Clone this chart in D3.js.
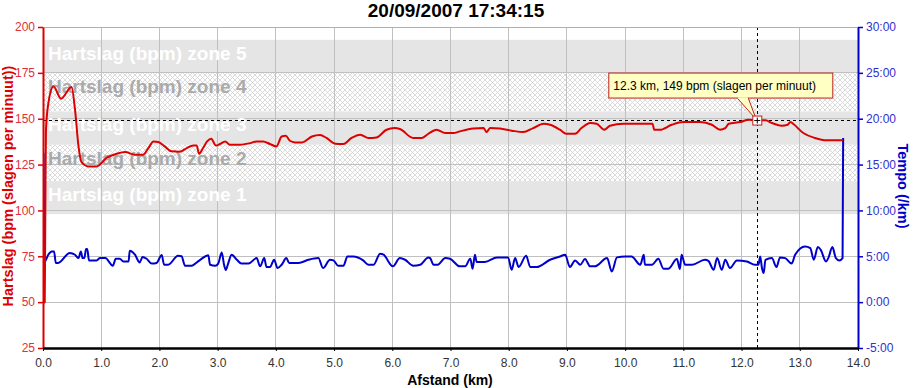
<!DOCTYPE html>
<html>
<head>
<meta charset="utf-8">
<script src="https://cdn.jsdelivr.net/npm/d3@7"></script>
<style>
html,body{margin:0;padding:0;background:#fff;}
svg{display:block;font-family:Arial,"Liberation Sans",sans-serif;}
</style>
</head>
<body>
<svg id="chart" width="914" height="388"></svg>
<script>
// ---------- DATA ----------
const chartTitle = "20/09/2007 17:34:15";
const xTicks = [0,1,2,3,4,5,6,7,8,9,10,11,12,13,14];
const hrTicks = [25,50,75,100,125,150,175,200];
const paceTicks = [-5,0,5,10,15,20,25,30];

const zoneNames = ["Hartslag (bpm) zone 1","Hartslag (bpm) zone 2","Hartslag (bpm) zone 3","Hartslag (bpm) zone 4","Hartslag (bpm) zone 5"];
const zoneLower = [98, 116, 135.8, 154, 175];
const zoneUpper = [116, 135.8, 154, 175, 193];

const hrKm = [0.0,0.01,0.03,0.04,0.05,0.09,0.18,0.31,0.49,0.55,0.61,0.66,0.78,0.92,1.09,1.27,1.41,1.58,1.72,1.81,1.90,1.98,2.09,2.21,2.35,2.47,2.58,2.64,2.68,2.75,2.82,2.89,2.97,3.04,3.13,3.21,3.38,3.56,3.67,3.78,3.90,4.01,4.10,4.17,4.24,4.33,4.45,4.62,4.76,4.87,5.02,5.16,5.30,5.45,5.59,5.73,5.90,6.04,6.13,6.36,6.51,6.62,6.76,6.91,7.05,7.16,7.39,7.57,7.62,7.68,7.85,8.05,8.25,8.42,8.60,8.71,8.88,8.99,9.14,9.25,9.40,9.51,9.64,9.74,9.97,10.20,10.47,10.50,10.60,10.80,11.00,11.29,11.49,11.63,11.72,11.78,11.98,12.12,12.26,12.41,12.52,12.69,12.79,12.84,12.89,13.06,13.26,13.46,13.74];
const hrBpm = [48,50,50,100,143,158,167.5,160.9,167.3,154.9,134.9,126.4,124,124,128.6,130.9,131.8,130.4,130.4,134,137.6,137.3,134.9,132.2,132,134,135.4,135.4,130.9,134,137.6,139.1,135.4,136.2,137.6,135.8,135.8,136.7,137.6,137.6,136.2,134.9,140.3,140.7,138,137.1,137.1,140.3,141.1,139.5,136.4,136.2,139.5,141.3,139.5,139.8,144,144.9,144.4,139.5,139.5,141.8,144,142.2,142.2,143.1,144.6,144.9,142.7,144.9,144.6,143.5,142.7,144.9,147.3,146.7,144,141.8,141.8,144.9,147.7,147.3,144,146.2,147.3,147.3,147.3,144,144,146.7,148.2,148.2,146.7,144,144.9,147.3,148.2,149.4,149.1,149.1,147.7,146.2,146.7,148.2,147.1,142.2,139.5,138.2,138.2];

const paceKm = [0.01,0.03,0.09,0.15,0.19,0.22,0.26,0.46,0.55,0.61,
 0.65,0.68,0.71,0.74,0.76,0.79,0.92,0.98,1.07,1.20,
 1.25,1.32,1.38,1.47,1.49,1.58,1.66,1.71,1.78,1.87,
 1.95,2.04,2.08,2.15,2.32,2.38,2.44,2.55,2.70,2.84,
 2.87,2.96,3.01,3.07,3.11,3.14,3.18,3.24,3.33,3.41,
 3.53,3.67,3.73,3.80,3.84,3.90,3.97,4.03,4.10,4.18,
 4.23,4.39,4.56,4.73,4.81,4.93,4.99,5.07,5.16,5.23,
 5.33,5.50,5.59,5.68,5.79,5.85,6.01,6.13,6.22,6.36,
 6.48,6.62,6.65,6.71,6.78,6.91,6.99,7.16,7.25,7.34,
 7.38,7.42,7.45,7.59,7.80,7.99,8.05,8.11,8.17,8.30,
 8.37,8.48,8.71,8.88,8.97,9.05,9.14,9.23,9.31,9.40,
 9.48,9.69,9.77,9.86,10.00,10.11,10.26,10.32,10.34,10.46,
 10.57,10.66,10.74,10.89,10.94,10.97,11.03,11.15,11.37,11.43,
 11.52,11.58,11.66,11.72,11.80,11.92,12.09,12.23,12.29,12.32,
 12.35,12.38,12.41,12.52,12.60,12.66,12.75,12.86,12.92,13.09,
 13.18,13.24,13.31,13.36,13.45,13.49,13.56,13.62,13.68,13.735,
 13.745];
const paceMin = [16.3,4.44,5.17,5.53,5.53,4.27,4.27,5.36,5.17,4.8,
 5.53,4.8,4.8,5.8,5.8,4.55,4.55,4.8,4.8,3.97,
 4.73,4.73,4.44,4.44,5.6,5.17,4.33,4.92,4.73,4.2,
 4.27,5.14,4.08,4.08,5.06,5.0,3.97,3.97,4.62,5.1,
 4.08,3.97,4.2,5.42,4.08,3.5,4.2,5.17,4.62,4.2,
 4.2,4.8,3.9,4.8,3.83,3.83,4.62,3.72,4.08,4.8,
 4.27,4.27,4.62,4.8,3.72,4.62,4.55,3.97,3.97,4.98,
 4.98,4.55,4.08,4.08,5.28,5.17,3.9,4.8,4.62,3.97,
 4.08,4.88,4.8,4.08,4.08,4.8,4.73,3.9,3.9,4.73,
 3.64,5.17,4.37,4.37,4.88,4.88,3.53,4.8,3.83,5.06,
 3.83,3.83,4.62,4.98,5.17,3.83,4.55,4.08,4.7,3.9,
 3.9,4.8,3.35,4.88,4.98,4.98,4.08,5.17,4.08,4.08,
 4.73,3.64,3.64,4.7,3.61,5.17,4.08,4.08,4.62,4.5,
 3.53,4.8,3.53,4.62,3.72,4.55,4.44,4.08,4.08,4.98,
 3.72,3.17,4.62,4.8,3.83,4.88,4.8,4.2,5.17,6.08,
 5.9,4.62,6.0,5.7,4.44,4.8,6.0,4.8,4.55,4.8,
 17.9];

const cursorKm = 12.27;
const cursorBpm = 149;
const tooltipText = "12.3 km, 149 bpm (slagen per minuut)";

// ---------- LAYOUT ----------
const svg = d3.select("#chart");
const L = 43, R = 858, T = 27, B = 348;
const x = d3.scaleLinear().domain([0,14]).range([L,R]);
const yL = d3.scaleLinear().domain([25,200]).range([B,T]);
const yR = d3.scaleLinear().domain([-5,30]).range([B,T]);
const HR_COL = "#dd0000", PACE_COL = "#0000cc";

const defs = svg.append("defs");
const pat = defs.append("pattern").attr("id","hatch").attr("patternUnits","userSpaceOnUse")
  .attr("width",5).attr("height",5);
pat.append("rect").attr("width",5).attr("height",5).attr("fill","#ffffff");
pat.append("path").attr("d","M0,0L5,5M5,0L0,5M-1,4L1,6M4,-1L6,1").attr("stroke","#d2d2d2").attr("stroke-width",0.8);
defs.append("clipPath").attr("id","clip").append("rect")
  .attr("x",L).attr("y",T).attr("width",R-L).attr("height",B-T);

// zones
const zones = zoneNames.map((n,i)=>({name:n, lo:zoneLower[i], hi:zoneUpper[i], i}));
svg.append("g").selectAll("rect").data(zones).join("rect")
  .attr("x",L+1).attr("width",R-L-1)
  .attr("y",d=>yL(d.hi)).attr("height",d=>yL(d.lo)-yL(d.hi))
  .attr("fill",d=>d.i%2===0 ? "#e5e5e5" : "url(#hatch)");

// grid
const grid = svg.append("g");
grid.selectAll("line.v").data(xTicks.slice(1,-1)).join("line")
  .attr("x1",d=>x(d)).attr("x2",d=>x(d)).attr("y1",T).attr("y2",B)
  .attr("stroke","#c0c0c0").attr("stroke-width",1).attr("shape-rendering","crispEdges");
grid.selectAll("line.h").data(hrTicks.slice(1)).join("line")
  .attr("x1",L).attr("x2",R).attr("y1",d=>yL(d)).attr("y2",d=>yL(d))
  .attr("stroke","#c0c0c0").attr("stroke-width",1).attr("shape-rendering","crispEdges");

// zone labels
svg.append("g").selectAll("text").data(zones).join("text")
  .attr("x",L+5).attr("y",d=>yL(d.hi)+20)
  .attr("font-size",19).attr("font-weight","bold")
  .attr("fill",d=>d.i%2===0 ? "#ffffff" : "#aaaaaa")
  .text(d=>d.name);

// cursor lines
svg.append("line").attr("x1",L).attr("x2",R).attr("y1",yL(cursorBpm)).attr("y2",yL(cursorBpm))
  .attr("stroke","#000").attr("stroke-dasharray","3,3").attr("shape-rendering","crispEdges");
svg.append("line").attr("x1",x(cursorKm)).attr("x2",x(cursorKm)).attr("y1",T).attr("y2",B)
  .attr("stroke","#000").attr("stroke-dasharray","3,3").attr("shape-rendering","crispEdges");

// series
const plot = svg.append("g").attr("clip-path","url(#clip)");
const hrData = hrKm.map((k,i)=>[k,hrBpm[i]]);
const paceData = paceKm.map((k,i)=>[k,paceMin[i]]);
plot.append("path").datum(paceData)
  .attr("d",d3.line().curve(d3.curveMonotoneX).x(d=>x(d[0])).y(d=>yR(d[1])))
  .attr("fill","none").attr("stroke",PACE_COL).attr("stroke-width",2).attr("stroke-linejoin","round");
plot.append("path").datum(hrData)
  .attr("d",d3.line().curve(d3.curveMonotoneX).x(d=>x(d[0])).y(d=>yL(d[1])))
  .attr("fill","none").attr("stroke",HR_COL).attr("stroke-width",2).attr("stroke-linejoin","round");

// top border
svg.append("line").attr("x1",L).attr("x2",R).attr("y1",T+0.5).attr("y2",T+0.5).attr("stroke","#b0b0b0");

// axes
const fmtPace = v => (v<0?"-":"") + Math.abs(v) + ":00";
const gL = svg.append("g").attr("transform",`translate(${L},0)`)
  .call(d3.axisLeft(yL).tickValues(hrTicks).tickSize(5).tickSizeOuter(0).tickPadding(3).tickFormat(d3.format("d")));
gL.select(".domain").attr("stroke",HR_COL).attr("stroke-width",2);
gL.selectAll(".tick line").attr("stroke",HR_COL).attr("stroke-width",1.5);
gL.selectAll("text").attr("fill","#e0303a").attr("font-size",12).attr("font-family","Arial, Liberation Sans, sans-serif");

const gR = svg.append("g").attr("transform",`translate(${R},0)`)
  .call(d3.axisRight(yR).tickValues(paceTicks).tickSize(5).tickSizeOuter(0).tickPadding(3).tickFormat(fmtPace));
gR.select(".domain").attr("stroke",PACE_COL).attr("stroke-width",2);
gR.selectAll(".tick line").attr("stroke",PACE_COL).attr("stroke-width",1.5);
gR.selectAll("text").attr("fill","#3030d0").attr("font-size",12).attr("font-family","Arial, Liberation Sans, sans-serif");

const gB = svg.append("g").attr("transform",`translate(0,${B})`)
  .call(d3.axisBottom(x).tickValues(xTicks).tickSize(3).tickSizeOuter(0).tickPadding(7).tickFormat(d3.format(".1f")));
gB.select(".domain").attr("stroke","#000").attr("stroke-width",2.5);
gB.selectAll(".tick line").attr("stroke","#000");
gB.selectAll("text").attr("fill","#333").attr("font-size",12).attr("font-family","Arial, Liberation Sans, sans-serif");

// titles
svg.append("text").attr("x",456).attr("y",17).attr("text-anchor","middle")
  .attr("font-size",19).attr("font-weight","bold").attr("fill","#000").text(chartTitle);
svg.append("text").attr("x",450).attr("y",385).attr("text-anchor","middle")
  .attr("font-size",14).attr("font-weight","bold").attr("fill","#000").text("Afstand (km)");
svg.append("text").attr("transform","translate(13,186) rotate(-90)").attr("text-anchor","middle")
  .attr("font-size",14.5).attr("font-weight","bold").attr("fill",HR_COL).text("Hartslag (bpm (slagen per minuut))");
svg.append("text").attr("transform","translate(898,186) rotate(90)").attr("text-anchor","middle")
  .attr("font-size",14.5).attr("font-weight","bold").attr("fill",PACE_COL).text("Tempo (/km)");

// tooltip
const px = x(cursorKm), py = yL(cursorBpm);
const tip = svg.append("g");
const bx = px-149, by = py-48, bw = 224, bh = 25;
tip.append("rect").attr("x",bx+0.5).attr("y",by+0.5).attr("width",bw).attr("height",bh)
  .attr("fill","#ffffc4").attr("stroke","#c02020");
tip.append("path").attr("d",`M${px-20},${by+bh+0.5} L${px-1},${py-1} L${px-9},${by+bh+0.5}`)
  .attr("fill","#ffffc4").attr("stroke","#c02020");
tip.append("line").attr("x1",px-19.5).attr("x2",px-9.5).attr("y1",by+bh+0.5).attr("y2",by+bh+0.5)
  .attr("stroke","#ffffc4").attr("stroke-width",1.5);
tip.append("text").attr("x",bx+5).attr("y",by+17).attr("font-size",12).attr("fill","#000").text(tooltipText);
tip.append("rect").attr("x",px-4.5).attr("y",py-4.5).attr("width",9).attr("height",9)
  .attr("fill","#fff").attr("stroke","#c02020");
tip.append("path").attr("d",`M${px-3},${py}H${px+3}M${px},${py-3}V${py+3}`).attr("stroke","#000");
</script>
</body>
</html>
